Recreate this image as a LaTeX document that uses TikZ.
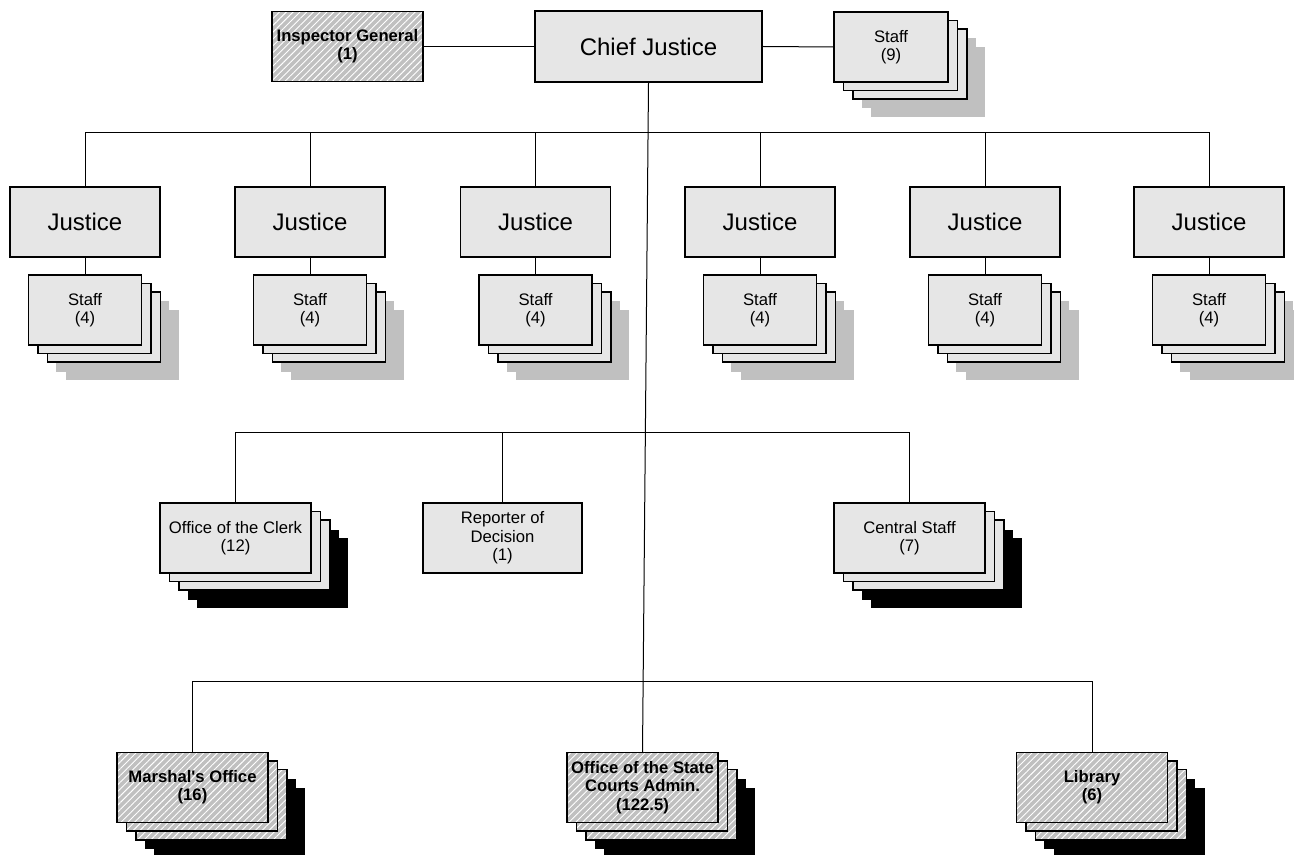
\documentclass[tikz,border=0pt]{standalone}
\usepackage{fontspec}
\setmainfont{Liberation Sans}
\usepackage{tikz}
\usetikzlibrary{calc,patterns.meta}
\definecolor{boxgray}{HTML}{E6E6E6}
\definecolor{hatchgray}{HTML}{C0C0C0}
\definecolor{shadegray}{HTML}{C0C0C0}
\tikzset{
  card/.style={draw,line width=1.1pt,fill=boxgray,minimum height=52.5pt,
    inner sep=1pt,align=center,font=\fontsize{12.5}{13.75}\selectfont},
  hatch/.style={card,fill=none,preaction={fill=hatchgray},
    pattern={Lines[angle=45,distance=3.6pt,line width=0.7pt]},pattern color=white,
    font=\fontsize{12.5}{13.75}\selectfont\bfseries},
  big/.style={card,font=\fontsize{18}{20}\selectfont},
  shade/.style={fill=#1,minimum height=52.5pt,inner sep=0pt},
  link/.style={line width=0.75pt}
}
% #1 name, #2 centre of the front card, #3 width, #4 card style, #5 shadow colour, #6 text
\newcommand{\stackbox}[6]{
  \foreach \k in {2,1,0}
    \node[shade=#5,minimum width=#3] at ($(#2)+(18+9.5*\k,18+8.5*\k)$) {};
  \foreach \k in {2,1}
    \node[#4,minimum width=#3] (#1-\k) at ($(#2)+(9.5*\k,8.5*\k)$) {};
  \node[#4,minimum width=#3] (#1) at (#2) {#6};
}
\begin{document}
\begin{tikzpicture}[x=0.75pt,y=-0.75pt]
  \useasboundingbox (0,0) rectangle (1294,855);
  % top row
  \node[big,minimum width=170.25pt,minimum height=53.25pt] (cj) at (648.5,46.5) {Chief Justice};
  \node[hatch,minimum width=113.25pt] (ig) at (347.5,46.5) {Inspector General\\(1)};
  \stackbox{st9}{891,47}{85.5pt}{card}{shadegray}{Staff\\(9)}
  % justices and their staff
  \foreach \i/\x in {1/85,2/310,3/535.5,4/760,5/985,6/1209}{
    \node[big,minimum width=112.5pt] (j\i) at (\x,222) {Justice};
    \stackbox{s\i}{\x,310}{84.75pt}{card}{shadegray}{Staff\\(4)}
  }
  % offices
  \stackbox{clerk}{235.5,538}{113.25pt}{card}{black}{Office of the Clerk\\(12)}
  \node[card,minimum width=119.25pt] (rep) at (502.5,538) {Reporter of\\Decision\\(1)};
  \stackbox{cstaff}{909.5,538}{113.25pt}{card}{black}{Central Staff\\(7)}
  \stackbox{marsh}{192.5,787.5}{113.25pt}{hatch}{black}{Marshal\textquotesingle s Office\\(16)}
  \stackbox{osca}{642.5,787.5}{113.25pt}{hatch}{black}{Office of the State\\Courts Admin.\\(122.5)}
  \stackbox{lib}{1092,787.5}{113.25pt}{hatch}{black}{Library\\(6)}
  % connectors
  \begin{scope}[link]
    \draw (ig.east) -- (cj.west);
    \draw (cj.east) -- (st9.west);
    \draw (cj.south) -- (osca.north);
    \draw (j1.north) -- ++(0,-54) -| (j6.north);
    \foreach \i in {2,...,5}
      \draw (j\i.north) -- ++(0,-54);
    \foreach \i in {1,...,6}
      \draw (j\i.south) -- (s\i.north);
    \draw (clerk.north) -- ++(0,-70) -| (cstaff.north);
    \draw (rep.north) -- ++(0,-70);
    \draw (marsh.north) -- ++(0,-70) -| (lib.north);
  \end{scope}
\end{tikzpicture}
\end{document}
